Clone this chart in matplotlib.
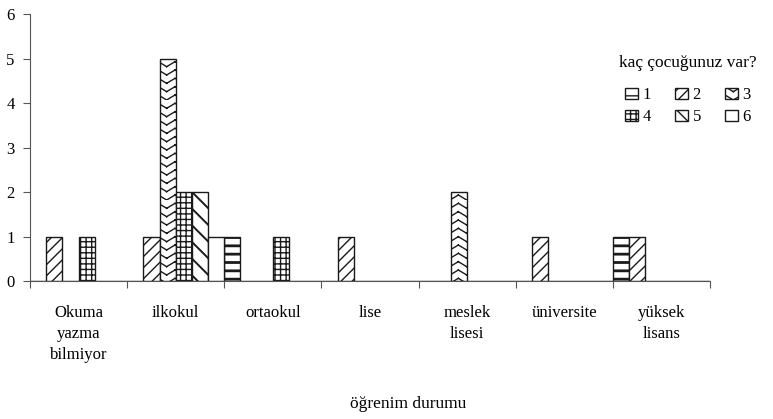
import warnings
import numpy as np
import matplotlib
matplotlib.use("Agg")
import matplotlib.pyplot as plt
from matplotlib import hatch as mhatch
from matplotlib.path import Path

# education level (x categories) and number of children (series)
categories = ["Okuma\nyazma\nbilmiyor", "ilkokul", "ortaokul", "lise",
              "meslek\nlisesi", "üniversite", "yüksek\nlisans"]
series_labels = ["1", "2", "3", "4", "5", "6"]

s1 = [0, 0, 1, 0, 0, 0, 1]
s2 = [1, 1, 0, 1, 0, 1, 1]
s3 = [0, 5, 0, 0, 2, 0, 0]
s4 = [1, 2, 1, 0, 0, 0, 0]
s5 = [0, 2, 0, 0, 0, 0, 0]
s6 = [0, 1, 0, 0, 0, 0, 0]
series = [s1, s2, s3, s4, s5, s6]

hatches = ["--", "///", "zz", "+++", "\\\\", ""]
hatch_widths = [2.0, 1.0, 1.0, 1.0, 1.4, 1.0]


class ZigzagHatch(mhatch.HatchPatternBase):
    """Stacked chevron rows ('z' hatch), drawn as loose segments."""

    def __init__(self, hatch, density):
        self.num_rows = int(hatch.count("z") * density)
        self.teeth = 6
        self.num_vertices = self.num_rows * self.teeth * 4

    def set_vertices_and_codes(self, vertices, codes):
        ys, step = np.linspace(0.0, 1.0, self.num_rows, False, retstep=True)
        half = 0.5 / self.teeth
        k = 0
        for y in ys:
            for t in range(self.teeth):
                x0 = t * 2 * half
                for (xa, ya), (xb, yb) in (((x0, y), (x0 + half, y + step * 0.6)),
                                           ((x0 + half, y + step * 0.6), (x0 + 2 * half, y))):
                    vertices[k] = (xa, ya)
                    vertices[k + 1] = (xb, yb)
                    codes[k] = Path.MOVETO
                    codes[k + 1] = Path.LINETO
                    k += 2


mhatch._hatch_types.append(ZigzagHatch)
warnings.filterwarnings("ignore")

plt.rcParams["font.family"] = ["Liberation Serif", "DejaVu Serif"]
plt.rcParams["hatch.linewidth"] = 1.0
plt.rcParams["hatch.color"] = "#1a1a1a"

fig = plt.figure(figsize=(7.73, 4.19), dpi=100)
ax = fig.add_axes([30 / 773, 138 / 419, 680 / 773, 267 / 419])

n = len(series)
width = 1.0 / n
x = np.arange(len(categories))
handles = []
for j, (vals, lab, h, hw) in enumerate(zip(series, series_labels, hatches, hatch_widths)):
    bars = ax.bar(x + j * width, vals, width=width, align="edge",
                  facecolor="white", edgecolor="#1a1a1a", linewidth=1.0,
                  hatch=h, label=lab)
    for b in bars:
        if hasattr(b, "set_hatch_linewidth"):
            b.set_hatch_linewidth(hw)
    handles.append(bars)

ax.set_xlim(0, len(categories))
ax.set_ylim(0, 6)
ax.set_yticks(range(0, 7))
ax.set_xticks(range(0, len(categories) + 1))
ax.set_xticklabels([])
ax.set_xticks(x + 0.5, minor=True)
ax.set_xticklabels(categories, minor=True, fontsize=12, va="top",
                   linespacing=1.45)
ax.tick_params(axis="x", which="minor", length=0, pad=17)
ax.tick_params(axis="x", which="major", length=5, width=0.8,
               color="#555555", direction="out")
ax.tick_params(axis="y", length=5, width=0.8, color="#555555",
               labelsize=12, pad=6)

for side in ("top", "right"):
    ax.spines[side].set_visible(False)
for side in ("left", "bottom"):
    ax.spines[side].set_color("#555555")
    ax.spines[side].set_linewidth(0.8)

# legend filled row by row: 1 2 3 / 4 5 6
order = [0, 3, 1, 4, 2, 5]
leg = ax.legend([handles[i] for i in order], [series_labels[i] for i in order],
                ncol=3, title="kaç çocuğunuz var?", frameon=False,
                loc="upper center", bbox_to_anchor=(688 / 773, 1 - 43 / 419),
                bbox_transform=fig.transFigure, fontsize=12,
                title_fontsize=12.5, handlelength=0.75, handleheight=0.6,
                handletextpad=0.3, columnspacing=1.45, labelspacing=0.35,
                borderpad=0.2)
leg._legend_box.sep = 12

fig.text(408 / 773, 1 - 404 / 419, "öğrenim durumu", ha="center",
         va="center", fontsize=12.5)

fig.savefig("out.png", dpi=100, facecolor="white")
